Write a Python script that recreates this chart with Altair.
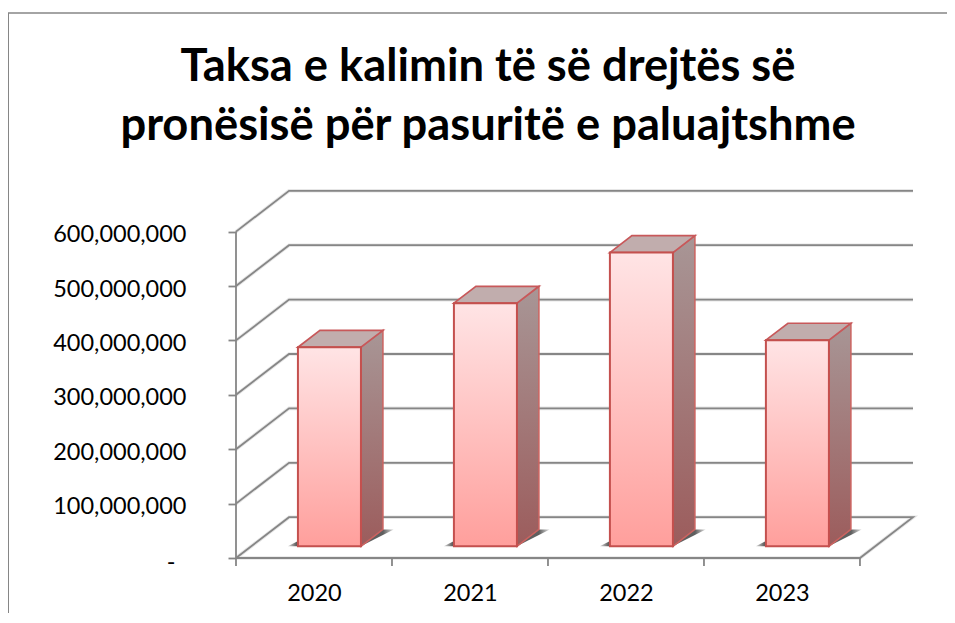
import altair as alt
import pandas as pd

years = ["2020", "2021", "2022", "2023"]
values = [366e6, 447e6, 540e6, 379e6]
y_ticks = [0, 100e6, 200e6, 300e6, 400e6, 500e6, 600e6]
slot_edges = [0, 1, 2, 3, 4]
title_lines = ["Taksa e kalimin të së drejtës së", "pronësisë për pasuritë e paluajtshme"]

# 3D projection, in data units
WALL_DX = 0.34      # slots
WALL_DY = 75e6      # value units
BAR_L = 0.397
BAR_R = 0.801
BAR_BASE = 21.5e6
BAR_DX = 0.141
BAR_DY = 31e6
SHADOW_L = -0.065
SHADOW_R = 0.21
N = len(years)

xs = alt.Scale(domain=[0, N + WALL_DX], nice=False, zero=False)
ys = alt.Scale(domain=[0, 676.5e6], nice=False, zero=False)
GRID = "#868686"

# ---- walls
grid_rows = []
for v in y_ticks:
    if v == 0:
        pts = [(0, 0), (WALL_DX, WALL_DY), (N + WALL_DX, WALL_DY), (N, 0), (0, 0)]
    else:
        pts = [(0, v), (WALL_DX, v + WALL_DY), (N + WALL_DX, v + WALL_DY)]
    for i, (a, b) in enumerate(pts):
        grid_rows.append({"g": v, "i": i, "x": a, "y": b})
grid_df = pd.DataFrame(grid_rows)

x_enc = lambda: alt.X("x:Q", scale=xs, title=None)
y_enc = lambda: alt.Y("y:Q", scale=ys, title=None)

grid_halo = alt.Chart(grid_df).mark_line(color="#E6E6E6", strokeWidth=3.6).encode(
    x=x_enc(), y=y_enc(), detail="g:N", order="i:Q"
)

grid = alt.Chart(grid_df).mark_line(color=GRID, strokeWidth=1.8, clip=False).encode(
    x=alt.X(
        "x:Q", scale=xs, title=None,
        axis=alt.Axis(
            values=[i + 0.5 for i in range(N)],
            labelExpr=f"{years}[floor(datum.value)]",
            domain=False, ticks=False, grid=False,
            labelFont="Lato", labelFontSize=23.5, labelColor="#000000",
            labelPadding=23, labelFlush=False,
        ),
    ),
    y=alt.Y(
        "y:Q", scale=ys, title=None,
        axis=alt.Axis(
            values=y_ticks,
            labelExpr="datum.value == 0 ? '' : format(datum.value, ',')",
            domain=False, ticks=True, tickColor=GRID, tickWidth=1.8, tickSize=8,
            grid=False, labelFont="Lato", labelFontSize=23.5, labelColor="#000000",
            labelPadding=42, labelOffset=3,
        ),
    ),
    detail="g:N",
    order="i:Q",
)

# the zero label of the accounting number format sits left of the others
zero_label = alt.Chart(pd.DataFrame({"y": [0], "t": ["-"]})).mark_text(
    font="Lato", fontSize=23.5, color="#000000", align="center", baseline="middle", dy=5
).encode(x=alt.value(-65), y=y_enc(), text="t:N")

axis_line = alt.Chart(pd.DataFrame({"x": [0], "y": [0], "y2": [600e6]})).mark_rule(
    color=GRID, strokeWidth=1.8
).encode(x=x_enc(), y=y_enc(), y2="y2:Q")

x_ticks = alt.Chart(pd.DataFrame({"x": slot_edges})).mark_rule(
    color=GRID, strokeWidth=1.8
).encode(x=x_enc(), y=alt.value(368), y2=alt.value(376))

# ---- bars
shadow_rows, side_rows, top_rows, front_rows = [], [], [], []
for k, (yr, v) in enumerate(zip(years, values)):
    l, r = k + BAR_L, k + BAR_R
    b, t = BAR_BASE, BAR_BASE + v
    front_rows.append({"year": yr, "x": l, "x2": r, "y": b, "y2": t})
    side_rows += [
        {"year": yr, "x": r, "y": b, "y2": t},
        {"year": yr, "x": r + BAR_DX, "y": b + BAR_DY, "y2": t + BAR_DY},
    ]
    top_rows += [
        {"year": yr, "x": l, "y": t, "y2": t},
        {"year": yr, "x": l + BAR_DX, "y": t, "y2": t + BAR_DY},
        {"year": yr, "x": r, "y": t, "y2": t + BAR_DY},
        {"year": yr, "x": r + BAR_DX, "y": t + BAR_DY, "y2": t + BAR_DY},
    ]
    sl, sr = k + BAR_L + SHADOW_L, k + BAR_R + SHADOW_R
    sd = BAR_DY
    sw = BAR_DX + 0.07
    shadow_rows += [
        {"year": yr, "x": sl, "y": b, "y2": b},
        {"year": yr, "x": sl + sw, "y": b, "y2": b + sd},
        {"year": yr, "x": sr - sw, "y": b, "y2": b + sd},
        {"year": yr, "x": sr, "y": b + sd, "y2": b + sd},
    ]


def grad_v(c1, c2):
    return alt.Gradient(
        gradient="linear", x1=0, x2=0, y1=0, y2=1,
        stops=[alt.GradientStop(color=c1, offset=0), alt.GradientStop(color=c2, offset=1)],
    )


shadow_fill = alt.Gradient(
    gradient="linear", x1=0, x2=1, y1=0, y2=0,
    stops=[
        alt.GradientStop(color="rgba(95,95,95,0.2)", offset=0),
        alt.GradientStop(color="rgba(95,95,95,1)", offset=0.08),
        alt.GradientStop(color="rgba(95,95,95,1)", offset=0.9),
        alt.GradientStop(color="rgba(95,95,95,0.2)", offset=1),
    ],
)
shadow = alt.Chart(pd.DataFrame(shadow_rows)).mark_area(color=shadow_fill).encode(
    x=x_enc(), y=y_enc(), y2="y2:Q", detail="year:N"
)

side = alt.Chart(pd.DataFrame(side_rows)).mark_area(
    color=grad_v("#A89696", "#9C5C5C"), stroke="#CC6360", strokeWidth=1.5
).encode(x=x_enc(), y=y_enc(), y2="y2:Q", detail="year:N")

top = alt.Chart(pd.DataFrame(top_rows)).mark_area(
    color="#C1ADAD", stroke="#C8585A", strokeWidth=1.7
).encode(x=x_enc(), y=y_enc(), y2="y2:Q", detail="year:N")

front = alt.Chart(pd.DataFrame(front_rows)).mark_rect(
    color=grad_v("#FFE4E5", "#FF9F9C"), stroke="#C4504E", strokeWidth=2
).encode(x=x_enc(), x2="x2:Q", y=y_enc(), y2="y2:Q")

# ---- outer frame of the chart object
frame_left = alt.Chart(pd.DataFrame({"a": [0]})).mark_rule(color="#868686", strokeWidth=2).encode(
    x=alt.value(-228), y=alt.value(-177), y2=alt.value(423)
)
frame_top = alt.Chart(pd.DataFrame({"a": [0]})).mark_rule(color="#868686", strokeWidth=1.5).encode(
    x=alt.value(-228), x2=alt.value(711), y=alt.value(-177)
)

# ---- title, as text placed above the plot
title_df = pd.DataFrame({"line": title_lines, "n": [0, 1]})
title = alt.Chart(title_df).mark_text(
    font="Lato", fontSize=45.3, fontWeight="bold", color="#000000",
    align="center", baseline="middle",
).encode(
    text="line:N",
    x=alt.value(252),
    y=alt.value(-123),
).transform_filter("datum.n == 0")
title2 = alt.Chart(title_df).mark_text(
    font="Lato", fontSize=45.3, fontWeight="bold", color="#000000",
    align="center", baseline="middle",
).encode(
    text="line:N",
    x=alt.value(252),
    y=alt.value(-64),
).transform_filter("datum.n == 1")

chart = (
    alt.layer(frame_left, frame_top, title, title2, grid_halo, grid, axis_line, x_ticks, zero_label, shadow, side, top, front)
    .properties(
        width=677,
        height=368,
        autosize=alt.AutoSizeParams(type="none"),
        padding={"left": 228, "top": 182, "right": 34, "bottom": 55},
    )
    .configure_view(stroke=None)
)

chart.save("out.html", embed_options={"renderer": "svg", "actions": False})
